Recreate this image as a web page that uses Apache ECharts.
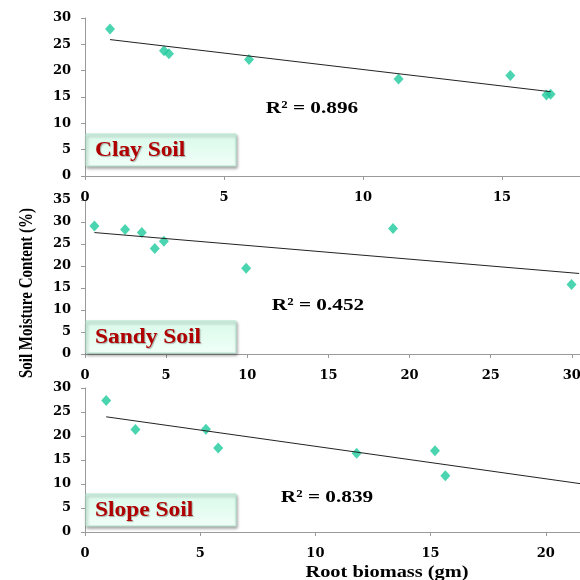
<!DOCTYPE html>
<html>
<head>
    <meta charset="utf-8">
    <script src="https://cdn.jsdelivr.net/npm/echarts@6/dist/echarts.min.js"></script>
    <style>
        html, body { margin: 0; padding: 0; background: #fff; }
    </style>
</head>
<body>

<div id="main" style="width: 580px;height:580px;"></div>

<script type="text/javascript">

    // root biomass (gm) vs soil moisture (%) for each soil type
    var clayX  = [0.9, 2.84, 3.02, 5.9, 11.28, 15.3, 16.6, 16.75];
    var clayY  = [27.9, 23.8, 23.2, 22.1, 18.4, 19.1, 15.4, 15.5];
    var sandyX = [0.58, 2.47, 3.5, 4.3, 4.86, 9.93, 18.98, 29.98];
    var sandyY = [29.1, 28.3, 27.6, 24.0, 25.6, 19.5, 28.5, 15.8];
    var slopeX = [0.92, 2.19, 5.25, 5.78, 11.79, 15.19, 15.64];
    var slopeY = [27.4, 21.35, 21.4, 17.5, 16.4, 16.95, 11.7];

    // trendline end points
    var clayTrend  = [[0.9, 25.9], [16.75, 16.0]];
    var sandyTrend = [[0.58, 27.6], [30.45, 18.3]];
    var slopeTrend = [[0.92, 24.0], [21.6, 10.0]];

    var soilNames = ['Clay Soil', 'Sandy Soil', 'Slope Soil'];
    var r2Labels  = ['R\u00b2 = 0.896', 'R\u00b2 = 0.452', 'R\u00b2 = 0.839'];

    var xMax = [20, 35, 25];
    var yMax = [30, 35, 30];

    function pairs(xs, ys) {
        return xs.map(function (x, i) { return [x, ys[i]]; });
    }

    var tickFont = {
        fontFamily: 'DejaVu Serif',
        fontWeight: 'bold',
        fontSize: 13,
        color: '#000'
    };
    var axisLine = { show: true, lineStyle: { color: '#9a9a9a', width: 1 } };
    var axisTick = { show: true, length: 4, lineStyle: { color: '#9a9a9a' } };

    // plots run past the right edge of the picture (cropped figure)
    var grids = [
        { left: 85, top: 18, width: 556, height: 158, outerBoundsMode: 'none' },
        { left: 85, top: 200, width: 568, height: 154, outerBoundsMode: 'none' },
        { left: 85, top: 388, width: 576, height: 144, outerBoundsMode: 'none' }
    ];

    var xAxes = [], yAxes = [];
    for (var i = 0; i < 3; i++) {
        xAxes.push({
            type: 'value', gridIndex: i, min: 0, max: xMax[i], interval: 5,
            axisLine: axisLine, axisTick: axisTick, splitLine: { show: false },
            axisLabel: Object.assign({ margin: 15 }, tickFont)
        });
        yAxes.push({
            type: 'value', gridIndex: i, min: 0, max: yMax[i], interval: 5,
            axisLine: axisLine, axisTick: axisTick, splitLine: { show: false },
            axisLabel: Object.assign({ margin: 14 }, tickFont)
        });
    }

    var pointData = [pairs(clayX, clayY), pairs(sandyX, sandyY), pairs(slopeX, slopeY)];
    var trendData = [clayTrend, sandyTrend, slopeTrend];

    var series = [];
    for (var k = 0; k < 3; k++) {
        series.push({
            type: 'line', xAxisIndex: k, yAxisIndex: k,
            data: trendData[k], symbol: 'none', silent: true,
            lineStyle: { color: '#222', width: 1 }
        });
        series.push({
            type: 'scatter', xAxisIndex: k, yAxisIndex: k,
            data: pointData[k], symbol: 'diamond', symbolSize: [10, 11],
            itemStyle: { color: '#1dc99b' }
        });
    }

    // soil boxes and R2 captions (figure text is a little stretched sideways)
    var boxes = [
        { y: 134, h: 32, r2x: 312, r2y: 108 },
        { y: 321, h: 32, r2x: 318, r2y: 305 },
        { y: 494, h: 32, r2x: 327, r2y: 497 }
    ];
    var graphics = [];
    boxes.forEach(function (b, i) {
        graphics.push({
            type: 'rect',
            shape: { x: 86, y: b.y, width: 150, height: b.h },
            style: {
                fill: new echarts.graphic.LinearGradient(0, 0, 0, 1, [
                    { offset: 0, color: '#d9faea' },
                    { offset: 1, color: '#f0fff8' }
                ]),
                stroke: '#b4e6cf',
                lineWidth: 1,
                shadowBlur: 3,
                shadowOffsetX: 1,
                shadowOffsetY: 2,
                shadowColor: 'rgba(0,0,0,0.35)'
            },
            z: 10
        });
        graphics.push({
            type: 'text',
            x: 95, y: b.y + b.h / 2 + 1, scaleX: 1.17,
            style: {
                text: soilNames[i],
                fill: '#b00000',
                font: 'bold 20px "Liberation Serif"',
                textAlign: 'left',
                textVerticalAlign: 'middle',
                textShadowColor: 'rgba(0,0,0,0.3)',
                textShadowOffsetX: 1,
                textShadowOffsetY: 1,
                textShadowBlur: 1
            },
            z: 11
        });
        graphics.push({
            type: 'text',
            x: b.r2x, y: b.r2y + 1, scaleX: 1.25,
            style: {
                text: r2Labels[i],
                fill: '#000',
                font: 'bold 17px "Liberation Serif"',
                textAlign: 'center',
                textVerticalAlign: 'middle'
            },
            z: 11
        });
    });
    graphics.push({
        type: 'text',
        x: 27, y: 293, rotation: Math.PI / 2, scaleY: 1.2,
        style: {
            text: 'Soil Moisture Content (%)',
            fill: '#000',
            font: 'bold 15px "Liberation Serif"',
            textAlign: 'center',
            textVerticalAlign: 'middle'
        }
    });
    graphics.push({
        type: 'text',
        x: 387, y: 573, scaleX: 1.2,
        style: {
            text: 'Root biomass (gm)',
            fill: '#000',
            font: 'bold 17px "Liberation Serif"',
            textAlign: 'center',
            textVerticalAlign: 'middle'
        }
    });

    var myChart = echarts.init(document.getElementById('main'));
    var option = {
        animation: false,
        backgroundColor: '#fff',
        grid: grids,
        xAxis: xAxes,
        yAxis: yAxes,
        series: series,
        graphic: graphics
    };
    myChart.setOption(option);
</script>

</body>
</html>
